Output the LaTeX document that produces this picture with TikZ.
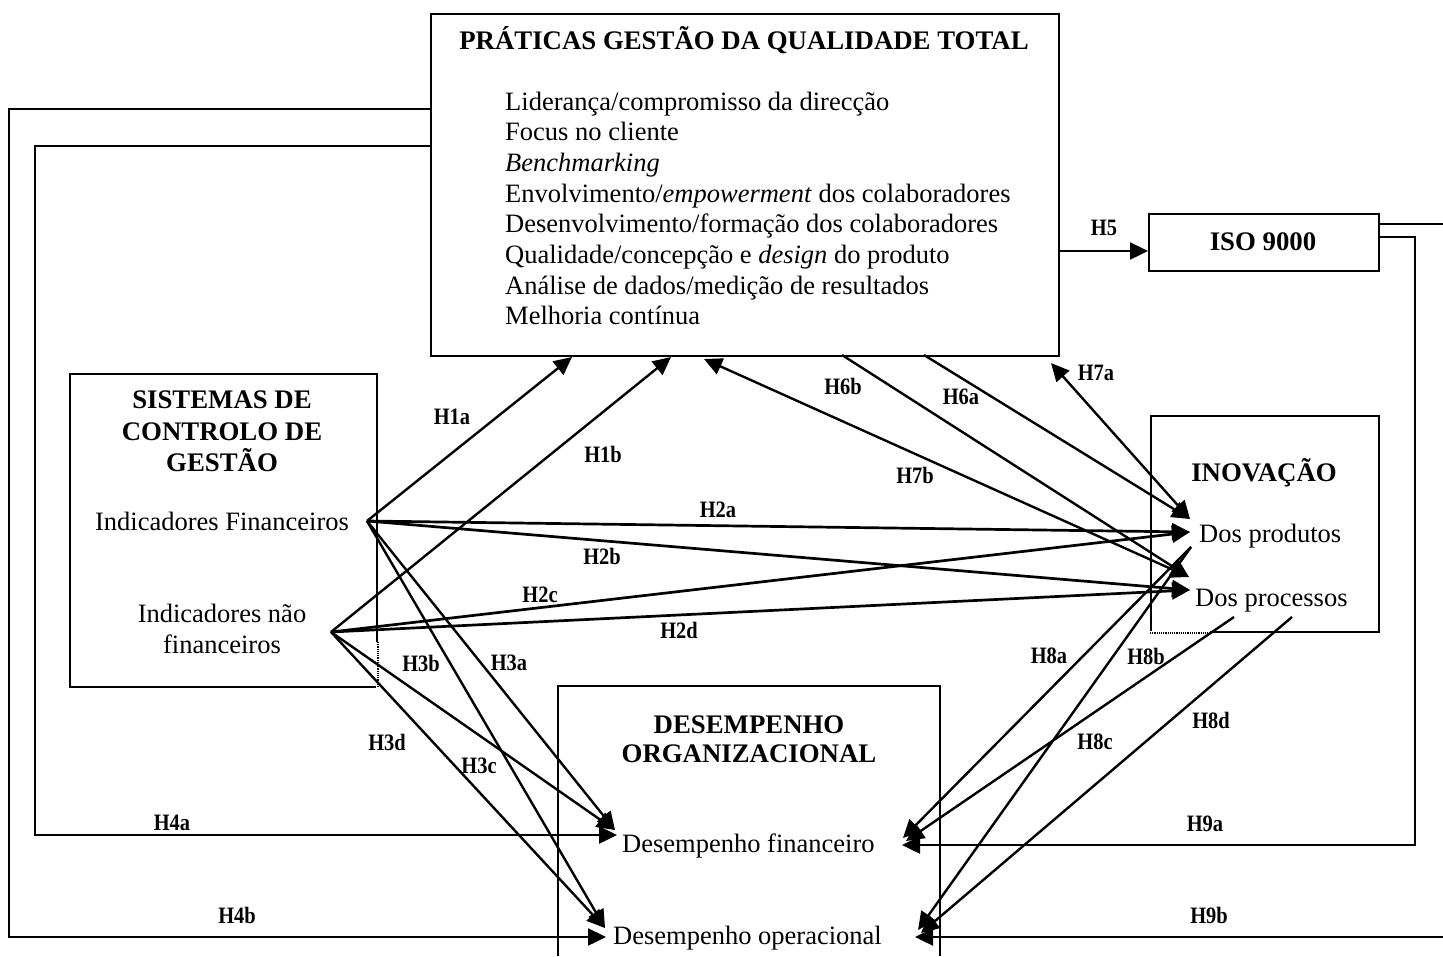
\documentclass[tikz,border=0pt]{standalone}
\usepackage{fontspec}
\setmainfont{Liberation Serif}
\usetikzlibrary{arrows.meta,calc}
% condensed bold hypothesis tags
\newcommand\hyptag[1]{\scalebox{0.87}[1]{#1}}
\begin{document}
\begin{tikzpicture}[x=1pt,y=-1pt,
  box/.style={draw, line width=1.9pt, inner sep=0pt, anchor=north west},
  txt/.style={font=\fontsize{26.5}{31}\selectfont, inner sep=0pt},
  ttl/.style={font=\fontsize{26.8}{31}\selectfont\bfseries, inner sep=0pt},
  lbl/.style={font=\fontsize{23.5}{26}\selectfont\bfseries, inner sep=0pt},
  link/.style={line width=2.4pt, -{Triangle[length=18pt,width=17pt]}},
  both/.style={line width=2.4pt, {Triangle[length=18pt,width=17pt]}-{Triangle[length=18pt,width=17pt]}},
  wire/.style={line width=2.4pt},
  gap/.style={white, line width=3.2pt},
  dots/.style={densely dotted, line width=1.2pt},
]
\useasboundingbox (0,0) rectangle (1443,956);

% ---------- boxes ----------
\node[box, minimum width=628pt, minimum height=342pt] (tqm) at (430,13) {};
\node[box, minimum width=307pt, minimum height=313pt] (scg) at (69,373) {};
\node[box, minimum width=230pt, minimum height=57pt]  (iso) at (1148,213) {};
\node[box, minimum width=228pt, minimum height=216pt] (inov) at (1150,415) {};
\node[inner sep=0pt, anchor=north west, minimum width=382pt, minimum height=270pt] (desemp) at (558,686) {};
\draw[line width=1.9pt] (desemp.south west) -- (desemp.north west) -- (desemp.north east) -- (desemp.south east);

% dotted stretches of two box borders
\draw[gap]  ([yshift=46pt]scg.south east) -- ([yshift=-1pt]scg.south east);
\draw[dots] ([yshift=46pt]scg.south east) -- (scg.south east);
\draw[gap]  ([xshift=-1pt]inov.south west) -- ([xshift=60pt]inov.south west);
\draw[dots] (inov.south west) -- ([xshift=60pt]inov.south west);

% ---------- texts ----------
\node[ttl, anchor=base] (tqmT) at (744,49) {PRÁTICAS GESTÃO DA QUALIDADE TOTAL};
\node[txt, anchor=base west] (q1) at (505,110)   {Liderança/compromisso da direcção};
\node[txt, anchor=base west] (q2) at (505,140.7) {Focus no cliente};
\node[txt, anchor=base west] (q3) at (505,171.4) {\itshape Benchmarking};
\node[txt, anchor=base west] (q4) at (505,202.1) {Envolvimento/\textit{empowerment} dos colaboradores};
\node[txt, anchor=base west] (q5) at (505,232.8) {Desenvolvimento/formação dos colaboradores};
\node[txt, anchor=base west] (q6) at (505,263.5) {Qualidade/concepção e \textit{design} do produto};
\node[txt, anchor=base west] (q7) at (505,294.2) {Análise de dados/medição de resultados};
\node[txt, anchor=base west] (q8) at (505,324.9) {Melhoria contínua};

\node[ttl, anchor=base] (scgT1) at (222,408) {SISTEMAS DE};
\node[ttl, anchor=base] (scgT2) at (222,440) {CONTROLO DE};
\node[ttl, anchor=base] (scgT3) at (222,471) {GESTÃO};
\node[txt, anchor=base] (indF)  at (222,530) {Indicadores Financeiros};
\node[txt, anchor=base] (indN1) at (222,622) {Indicadores não};
\node[txt, anchor=base] (indN2) at (222,653) {financeiros};

\node[ttl, anchor=base] (isoT) at (1263,250) {ISO 9000};

\node[ttl, anchor=base] (inovT) at (1264,481) {INOVAÇÃO};
\node[txt, anchor=base west] (prod) at (1199,542) {Dos produtos};
\node[txt, anchor=base west] (proc) at (1195,606) {Dos processos};

\node[ttl, anchor=base] (desT1) at (749,733) {DESEMPENHO};
\node[ttl, anchor=base] (desT2) at (749,762) {ORGANIZACIONAL};
\node[txt, anchor=base west] (dFin) at (622,852) {Desempenho financeiro};
\node[txt, anchor=base west] (dOp)  at (613,944) {Desempenho operacional};

% ---------- connector end points ----------
\coordinate (IF)  at (367,521);
\coordinate (INF) at (331,632);
\coordinate (tA) at (572,357);
\coordinate (tB) at (671,357);
\coordinate (tC) at (704,359);
\coordinate (tD) at (842,355);
\coordinate (tE) at (924,355);
\coordinate (tF) at (1051,363);
\coordinate (pA) at (1190,519);
\coordinate (pB) at (1190,532);
\coordinate (pC) at (1191,547);
\coordinate (rA) at (1189,577);
\coordinate (rB) at (1190,590);
\coordinate (rC) at (1234,617);
\coordinate (rD) at (1292,617);
\coordinate (fL) at (615,830);
\coordinate (fH) at (617,835);
\coordinate (oL) at (605,928);
\coordinate (oH) at (606,937);
\coordinate (fR1) at (903,838);
\coordinate (fR2) at (906,841);
\coordinate (fR3) at (902,845);
\coordinate (oR1) at (918,930);
\coordinate (oR2) at (921,933);
\coordinate (oR3) at (915,937);
\coordinate (fbA) at (430,146);
\coordinate (fbB) at (430,109);
\coordinate (h5s) at (1058,251);
\coordinate (isoR1) at (1378,224);
\coordinate (isoR2) at (1378,237);
\coordinate (edgeA) at (1443,224);
\coordinate (edgeB) at (1443,937);

% ---------- connectors ----------
\draw[link] (IF) -- (tA);
\draw[link] (INF) -- (tB);
\draw[link, line width=2.7pt] (IF) -- (pB);
\draw[link, line width=2.7pt] (IF) -- (rB);
\draw[link, line width=2.7pt] (INF) -- (pB);
\draw[link, line width=2.7pt] (INF) -- (rB);
\draw[link] (IF) -- (fL);
\draw[link] (IF) -- (oL);
\draw[link] (INF) -- (fL);
\draw[link] (INF) -- (oL);
\draw[link] (fbA) -- ++(-395,0) |- (fH);
\draw[link] (fbB) -- ++(-421,0) |- (oH);
\draw[link] (h5s) -- (iso.west |- h5s);
\draw[link] (tE) -- (pA);
\draw[link] (tD) -- (rA);
\draw[both] (tF) -- (pA);
\draw[both] (tC) -- (rA);
\draw[link] (pC) -- (fR1);
\draw[link] (pC) -- (oR1);
\draw[link] (rC) -- (fR2);
\draw[link] (rD) -- (oR2);
\draw[wire] (isoR1) -- (edgeA);
\draw[link] (isoR2) -- ++(37,0) |- (fR3);
\draw[link] (edgeB) -- (oR3);

% ---------- hypothesis labels ----------
\node[lbl] (l1a) at (452,417) {\hyptag{H1a}};
\node[lbl] (l1b) at (603,454) {\hyptag{H1b}};
\node[lbl] (l2a) at (718,510) {\hyptag{H2a}};
\node[lbl] (l2b) at (602,556) {\hyptag{H2b}};
\node[lbl] (l2c) at (540,595) {\hyptag{H2c}};
\node[lbl] (l2d) at (679,630) {\hyptag{H2d}};
\node[lbl] (l3a) at (509,663) {\hyptag{H3a}};
\node[lbl] (l3b) at (421,663) {\hyptag{H3b}};
\node[lbl] (l3c) at (479,766) {\hyptag{H3c}};
\node[lbl] (l3d) at (387,742) {\hyptag{H3d}};
\node[lbl] (l4a) at (172,823) {\hyptag{H4a}};
\node[lbl] (l4b) at (237,915) {\hyptag{H4b}};
\node[lbl] (l5)  at (1104,228) {\hyptag{H5}};
\node[lbl] (l6a) at (961,397) {\hyptag{H6a}};
\node[lbl] (l6b) at (843,386) {\hyptag{H6b}};
\node[lbl] (l7a) at (1096,373) {\hyptag{H7a}};
\node[lbl] (l7b) at (915,475) {\hyptag{H7b}};
\node[lbl] (l8a) at (1049,656) {\hyptag{H8a}};
\node[lbl] (l8b) at (1146,656) {\hyptag{H8b}};
\node[lbl] (l8c) at (1095,742) {\hyptag{H8c}};
\node[lbl] (l8d) at (1211,720) {\hyptag{H8d}};
\node[lbl] (l9a) at (1205,824) {\hyptag{H9a}};
\node[lbl] (l9b) at (1209,915) {\hyptag{H9b}};
\end{tikzpicture}
\end{document}
